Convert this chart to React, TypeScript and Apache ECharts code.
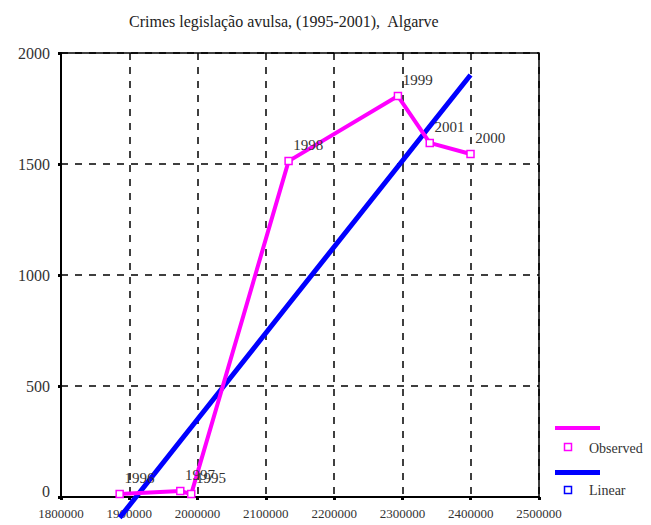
import React, { useEffect, useRef } from "react";
import * as echarts from "echarts";

const titleText = "Crimes legislação avulsa, (1995-2001),  Algarve";
const years = ["1996", "1997", "1995", "1998", "1999", "2001", "2000"];
const populationX = [1885900, 1974700, 1990700, 2133300, 2293400, 2340000, 2399700];
const observedY = [13, 27, 13, 1513, 1806, 1595, 1545];
const linearY = [-93, 252, 314, 868, 1489, 1670, 1901];

const FONT = "Liberation Serif, DejaVu Serif, serif";

export default function App() {
  const ref = useRef<HTMLDivElement>(null);
  useEffect(() => {
    if (!ref.current) return;
    const chart = echarts.init(ref.current, null, { renderer: "svg" });
    const observed = populationX.map((x, i) => ({ value: [x, observedY[i]], name: years[i] }));
    const linear = populationX.map((x, i) => [x, linearY[i]]);
    chart.setOption({
      animation: false,
      backgroundColor: "#fff",
      title: {
        text: titleText,
        left: 124,
        top: 8,
        textStyle: { fontFamily: FONT, fontSize: 16, fontWeight: "normal", color: "#222" },
      },
      grid: {
        left: 61,
        right: 112,
        top: 53,
        bottom: 28,
        show: true,
        borderColor: "#000",
        borderWidth: 1.5,
        backgroundColor: "transparent",
      },
      xAxis: {
        type: "value",
        min: 1800000,
        max: 2500000,
        interval: 100000,
        axisLine: { lineStyle: { color: "#000", width: 2 } },
        axisTick: { show: true, length: 3, lineStyle: { color: "#000", width: 3 } },
        axisLabel: { fontFamily: FONT, fontSize: 13, color: "#333", margin: 10, formatter: (v: number) => String(v) },
        splitLine: { show: true, lineStyle: { color: "#000", type: [7, 7], width: 1.5 } },
      },
      yAxis: {
        type: "value",
        min: 0,
        max: 2000,
        interval: 500,
        axisLine: { show: true, lineStyle: { color: "#000", width: 2 } },
        axisTick: { show: true, length: 3, lineStyle: { color: "#000", width: 3 } },
        axisLabel: {
          fontFamily: FONT,
          fontSize: 16,
          color: "#333",
          margin: 11,
          verticalAlign: "middle",
          formatter: (v: number) => (v === 0 ? "{z|0}" : String(v)),
          rich: { z: { fontFamily: FONT, fontSize: 16, color: "#333", padding: [0, 0, 12, 0] } },
        },
        splitLine: { show: true, lineStyle: { color: "#000", type: [7, 7], width: 1.5 } },
      },
      series: [
        {
          name: "Linear",
          type: "line",
          data: linear,
          showSymbol: false,
          clip: false,
          lineStyle: { color: "#0000ff", width: 5 },
          z: 3,
        },
        {
          name: "Observed",
          type: "line",
          data: observed,
          symbol: "rect",
          symbolSize: 7,
          showSymbol: true,
          clip: false,
          itemStyle: { color: "#fff", borderColor: "#ff00ff", borderWidth: 1.5 },
          lineStyle: { color: "#ff00ff", width: 4 },
          label: {
            show: true,
            formatter: (p: any) => p.name,
            position: [9, -12],
            align: "left",
            verticalAlign: "middle",
            fontFamily: FONT,
            fontSize: 15,
            color: "#333",
          },
          z: 4,
        },
      ],
      graphic: [
        { type: "rect", shape: { x: 555, y: 426, width: 45, height: 4 }, style: { fill: "#ff00ff" } },
        { type: "rect", shape: { x: 564.5, y: 443.5, width: 7, height: 7 }, style: { fill: "#fff", stroke: "#ff00ff", lineWidth: 1.5 } },
        { type: "text", x: 589, y: 448, style: { text: "Observed", fontFamily: FONT, fontSize: 14, fill: "#333", verticalAlign: "middle" } },
        { type: "rect", shape: { x: 555, y: 470, width: 45, height: 5 }, style: { fill: "#0000ff" } },
        { type: "rect", shape: { x: 564.5, y: 486.5, width: 7, height: 7 }, style: { fill: "#fff", stroke: "#0000ff", lineWidth: 1.5 } },
        { type: "text", x: 589, y: 490, style: { text: "Linear", fontFamily: FONT, fontSize: 14, fill: "#333", verticalAlign: "middle" } },
      ],
    });
    return () => chart.dispose();
  }, []);
  return <div ref={ref} style={{ position: "absolute", left: 0, top: 0, width: 651, height: 525 }} />;
}
